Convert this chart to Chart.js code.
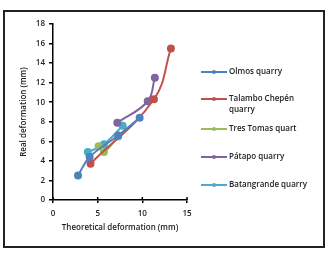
<!DOCTYPE html>
<html>
<head>
<meta charset="utf-8">
<script src="https://cdn.jsdelivr.net/npm/chart.js@4.4.1/dist/chart.umd.min.js"></script>
<style>
  body { margin: 0; background: #fff; }
  #box {
    position: absolute; left: 3px; top: 10px;
    width: 318px; height: 234px;
    border: 2px solid #222;
  }
</style>
</head>
<body>
<div id="box"><canvas id="chart" width="318" height="234"></canvas></div>
<script>
// series names as in the legend
const seriesNames = ['Olmos quarry', 'Talambo Chepén quarry', 'Tres Tomas quart', 'Pátapo quarry', 'Batangrande quarry'];
const seriesColors = ['#4F81BD', '#C0504D', '#9BBB59', '#8064A2', '#4BACC6'];

// theoretical (x) and real (y) deformation, mm
const olmosX = [2.8, 4.1, 7.3, 9.7];
const olmosY = [2.5, 4.4, 6.6, 8.4];
const talamboX = [4.2, 11.3, 13.2];
const talamboY = [3.7, 10.3, 15.5];
const tresTomasX = [5.1, 5.7, 7.3];
const tresTomasY = [5.5, 4.9, 6.5];
const patapoX = [7.2, 10.6, 11.4];
const patapoY = [7.9, 10.1, 12.5];
const batangrandeX = [3.9, 5.7, 7.8];
const batangrandeY = [4.9, 5.7, 7.6];

const xTicks = [0, 5, 10, 15];
const yTicks = [0, 2, 4, 6, 8, 10, 12, 14, 16, 18];

const allX = [olmosX, talamboX, tresTomasX, patapoX, batangrandeX];
const allY = [olmosY, talamboY, tresTomasY, patapoY, batangrandeY];

const datasets = seriesNames.map((name, i) => ({
    label: name,
    data: allX[i].map((x, j) => ({ x: x, y: allY[i][j] })),
    borderColor: seriesColors[i],
    backgroundColor: seriesColors[i],
    borderWidth: 2,
    pointRadius: 3,
    tension: 0.4,
    showLine: true,
}));

const fontFamily = '"Open Sans", sans-serif';

// inner half of the crossing tick marks + the legend on the right
const extras = {
    id: 'extras',
    afterDraw(chart) {
        const ctx = chart.ctx;
        const xs = chart.scales.x, ys = chart.scales.y;
        ctx.save();
        ctx.strokeStyle = '#000';
        ctx.lineWidth = 1.5;
        xTicks.forEach(v => {
            const px = xs.getPixelForValue(v);
            ctx.beginPath();
            ctx.moveTo(px, ys.bottom);
            ctx.lineTo(px, ys.bottom - 3);
            ctx.stroke();
        });

        // legend
        const legendY = [60, 87, 117, 145, 173];
        ctx.font = '600 8px ' + fontFamily;
        ctx.textBaseline = 'middle';
        seriesNames.forEach((name, i) => {
            const y = legendY[i];
            ctx.strokeStyle = seriesColors[i];
            ctx.lineWidth = 2;
            ctx.beginPath();
            ctx.moveTo(196, y);
            ctx.lineTo(222, y);
            ctx.stroke();
            ctx.fillStyle = seriesColors[i];
            ctx.beginPath();
            ctx.arc(209, y, 2, 0, Math.PI * 2);
            ctx.fill();
            ctx.fillStyle = '#222';
            if (name === 'Talambo Chepén quarry') {
                ctx.fillText('Talambo Chepén', 224, y);
                ctx.fillText('quarry', 224, y + 11);
            } else {
                ctx.fillText(name, 224, y);
            }
        });
        ctx.restore();
    }
};

new Chart(document.getElementById('chart'), {
    type: 'scatter',
    data: { datasets: datasets },
    options: {
        responsive: false,
        animation: false,
        layout: { padding: { left: 14, top: 12, right: 136, bottom: 9 } },
        plugins: { legend: { display: false }, tooltip: { enabled: false } },
        scales: {
            x: {
                min: 0, max: 15,
                afterBuildTicks: s => { s.ticks = xTicks.map(v => ({ value: v })); },
                afterFit: s => { s.height = 37; },
                border: { color: '#000', width: 1.5 },
                grid: { drawOnChartArea: false, color: '#000', lineWidth: 1.5, tickLength: 3 },
                ticks: { color: '#222', font: { family: fontFamily, size: 8, weight: '600' }, padding: 6, maxRotation: 0 },
                title: { display: true, text: 'Theoretical deformation (mm)', color: '#222', font: { family: fontFamily, size: 8, weight: '600' }, padding: { top: 2 } },
            },
            y: {
                min: 0, max: 18,
                afterBuildTicks: s => { s.ticks = yTicks.map(v => ({ value: v })); },
                afterFit: s => { s.width = 34; },
                border: { color: '#000', width: 1.5 },
                grid: { drawOnChartArea: false, color: '#000', lineWidth: 1.5, tickLength: 4 },
                ticks: { color: '#222', font: { family: fontFamily, size: 8, weight: '600' }, padding: 4 },
                title: { display: true, text: 'Real deformation (mm)', color: '#222', font: { family: fontFamily, size: 8, weight: '600' }, padding: 0 },
            },
        },
    },
    plugins: [extras],
});
</script>
</body>
</html>
